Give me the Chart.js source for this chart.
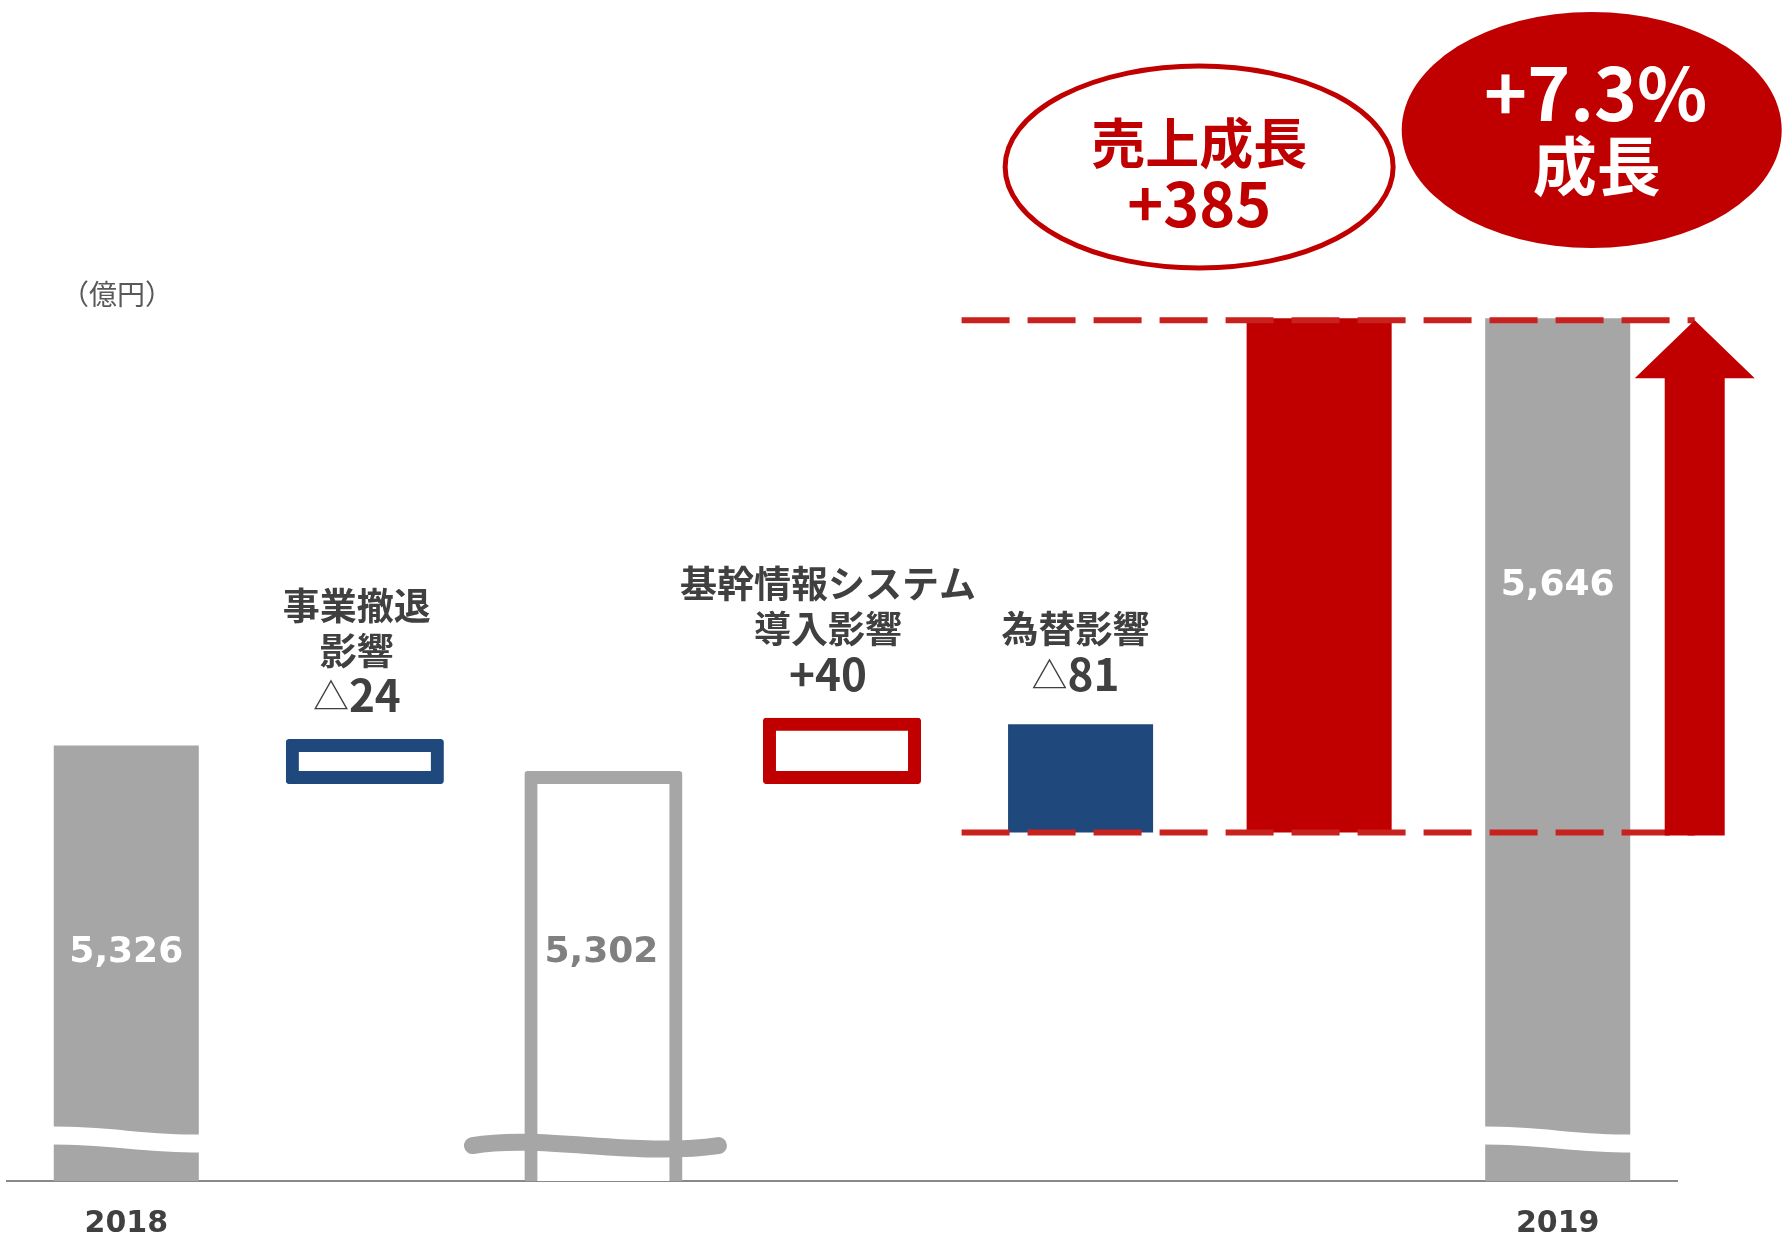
<!DOCTYPE html>
<html lang="ja">
<head>
<meta charset="utf-8">
<title>売上高 増減要因</title>
<script src="https://cdn.jsdelivr.net/npm/chart.js@4.4.1/dist/chart.umd.min.js"></script>
<style>
  html, body { margin: 0; padding: 0; background: #fff; }
  #wrap { width: 1782px; height: 1240px; }
</style>
</head>
<body>
<div id="wrap"><canvas id="bridge" width="1782" height="1240"></canvas></div>
<script>
const categories = ['2018', '事業撤退影響', '小計', '基幹情報システム導入影響', '為替影響', '売上成長', '2019'];
const tickLabels = ['2018', '', '', '', '', '', '2019'];
const stepTitles = [[], ['事業撤退', '影響'], [], ['基幹情報システム', '導入影響'], ['為替影響'], [], []];

const sales2018 = 5326;
const sales2019 = 5646;
const exitImpact = -24;
const systemImpact = 40;
const fxImpact = -81;
const growth = 385;

/* running totals of the bridge */
const subtotal = sales2018 + exitImpact;
const afterSystem = subtotal + systemImpact;
const afterFx = afterSystem + fxImpact;

const GRAY = '#A6A6A6', BLUE = '#1F497D', RED = '#C00000', TEXT = '#404040';
const JP = '"Noto Sans CJK JP", sans-serif';
const NUM = '"DejaVu Sans", sans-serif';
const breakAt = 5031;

function signed(v) {
    return v < 0 ? '△' + Math.abs(v) : '+' + v;
}

function fmt(v) {
    return v.toLocaleString('en-US');
}

/* find the bar drawn at a category */
function barAt(chart, index) {
    for (const meta of chart.getSortedVisibleDatasetMetas()) {
        const v = chart.data.datasets[meta.index].data[index];
        if (v !== null && v !== undefined) return meta.data[index];
    }
    return null;
}

function drawSigned(ctx, text, x, y, size, color) {
    // the triangle is set light and a bit smaller, the figures bold
    const neg = text.startsWith('△');
    const head = neg ? '△' : '';
    const tail = neg ? text.slice(1) : text;
    const headFont = `400 ${Math.round(size * 0.82)}px ${JP}`;
    ctx.font = headFont;
    const wh = head ? ctx.measureText(head).width : 0;
    ctx.font = `700 ${size}px ${JP}`;
    const wt = ctx.measureText(tail).width;
    let sx = x - (wh + wt) / 2;
    ctx.textAlign = 'left';
    ctx.fillStyle = color;
    if (head) {
        ctx.font = headFont;
        ctx.fillText(head, sx, y + 1);
        sx += wh;
    }
    ctx.font = `700 ${size}px ${JP}`;
    ctx.fillText(tail, sx, y);
}

const outlineBar = (data, color) => ({
    data,
    backgroundColor: '#FFFFFF',
    borderColor: color,
    borderWidth: 13,
    borderSkipped: false,
    borderRadius: 3,
    inflateAmount: 6.5,
    clip: { left: false, top: false, right: false, bottom: 0 }
});

const solidBar = (data, color) => ({
    data,
    backgroundColor: color,
    borderWidth: 0
});

/* DECORATION: axis breaks, guide lines, arrow, labels, callouts */
const bridgeDecor = {
    id: 'bridgeDecor',
    afterDatasetsDraw(chart) {
        const { ctx, scales: { y } } = chart;
        const yb = y.getPixelForValue(breakAt);
        ctx.save();

        [0, 6].forEach(i => {
            const bar = barAt(chart, i);
            const l = bar.x - bar.width / 2 - 1;
            const r = bar.x + bar.width / 2 + 1;
            ctx.beginPath();
            ctx.moveTo(l, yb - 4);
            ctx.bezierCurveTo(l + (r - l) * 0.4, yb - 4, l + (r - l) * 0.6, yb + 4, r, yb + 4);
            ctx.strokeStyle = '#FFFFFF';
            ctx.lineWidth = 18;
            ctx.lineCap = 'butt';
            ctx.stroke();
        });

        const sub = barAt(chart, 2);
        const x0 = sub.x - 131, x1 = sub.x + 115;
        ctx.beginPath();
        ctx.moveTo(x0, yb + 6);
        ctx.bezierCurveTo(x0 + 68, yb - 6, x0 + 162, yb + 18, x1, yb + 6);
        ctx.strokeStyle = GRAY;
        ctx.lineWidth = 17;
        ctx.lineCap = 'round';
        ctx.stroke();

        ctx.restore();
    },
    afterDraw(chart) {
        const { ctx, scales: { y } } = chart;
        const fxBar = barAt(chart, 4);
        const growthBar = barAt(chart, 5);
        const last = barAt(chart, 6);
        const yTop = y.getPixelForValue(sales2019);
        const yBot = y.getPixelForValue(afterFx);
        const ax = last.x + 137;

        ctx.save();

        // guide lines at the growth start and end
        ctx.setLineDash([48, 18]);
        ctx.strokeStyle = '#C9211E';
        ctx.lineWidth = 6;
        [yTop + 2, yBot].forEach(py => {
            ctx.beginPath();
            ctx.moveTo(fxBar.x - 119, py);
            ctx.lineTo(ax, py);
            ctx.stroke();
        });
        ctx.setLineDash([]);

        // growth arrow
        const head = 60;
        ctx.beginPath();
        ctx.moveTo(ax, yTop + 2);
        ctx.lineTo(ax + 60, yTop + head);
        ctx.lineTo(ax + 30, yTop + head);
        ctx.lineTo(ax + 30, yBot + 3);
        ctx.lineTo(ax - 30, yBot + 3);
        ctx.lineTo(ax - 30, yTop + head);
        ctx.lineTo(ax - 60, yTop + head);
        ctx.closePath();
        ctx.fillStyle = RED;
        ctx.fill();

        // totals inside the bars
        ctx.textAlign = 'center';
        ctx.textBaseline = 'middle';
        ctx.font = `700 36px ${NUM}`;
        ctx.fillStyle = '#FFFFFF';
        ctx.fillText(fmt(sales2018), barAt(chart, 0).x, y.getPixelForValue(5171));
        ctx.fillText(fmt(sales2019), last.x, y.getPixelForValue(5446));
        ctx.fillStyle = '#808080';
        ctx.fillText(fmt(subtotal), barAt(chart, 2).x - 2, y.getPixelForValue(5171));

        // step titles with their amounts
        const steps = { 1: exitImpact, 3: systemImpact, 4: fxImpact };
        const shift = { 1: -8, 3: -14, 4: -5 };
        Object.keys(steps).forEach(k => {
            const i = Number(k);
            const bar = barAt(chart, i);
            const top = Math.min(bar.y, bar.base);
            const cx = bar.x + shift[i];
            let ly = top - 50;
            drawSigned(ctx, signed(steps[i]), cx, ly, 44, TEXT);
            ctx.textAlign = 'center';
            ctx.font = `700 37px ${JP}`;
            ctx.fillStyle = TEXT;
            stepTitles[i].slice().reverse().forEach(line => {
                ly -= 45;
                ctx.fillText(line, cx, ly);
            });
        });

        // unit
        ctx.textAlign = 'left';
        ctx.font = `400 28px ${JP}`;
        ctx.fillStyle = '#595959';
        ctx.fillText('（億円）', 61, 294);

        // callout: sales growth amount
        const c1x = growthBar.x - 120, c1y = 167;
        ctx.beginPath();
        ctx.ellipse(c1x, c1y, 194, 101, 0, 0, Math.PI * 2);
        ctx.fillStyle = '#FFFFFF';
        ctx.fill();
        ctx.lineWidth = 5;
        ctx.strokeStyle = RED;
        ctx.stroke();
        ctx.textAlign = 'center';
        ctx.fillStyle = RED;
        ctx.font = `700 54px ${JP}`;
        ctx.fillText('売上成長', c1x, 143);
        ctx.font = `700 61px ${JP}`;
        ctx.fillText('+' + growth, c1x, 204);

        // callout: growth rate
        const rate = ((sales2019 - afterFx) / afterFx * 100).toFixed(1);
        const c2x = last.x + 34, c2y = 130;
        ctx.beginPath();
        ctx.ellipse(c2x, c2y, 190, 118, 0, 0, Math.PI * 2);
        ctx.fillStyle = RED;
        ctx.fill();
        ctx.fillStyle = '#FFFFFF';
        ctx.font = `700 73px ${JP}`;
        ctx.fillText('+' + rate + '%', c2x + 4, 93);
        ctx.font = `700 64px ${JP}`;
        ctx.fillText('成長', c2x + 5, 166);

        ctx.restore();
    }
};

const none = categories.map(() => null);
const at = (i, v) => none.map((n, j) => (j === i ? v : null));

new Chart(document.getElementById('bridge'), {
    type: 'bar',
    data: {
        labels: categories,
        datasets: [
            solidBar([sales2018, null, null, null, null, null, sales2019], GRAY),
            outlineBar(at(2, subtotal), GRAY),
            outlineBar(at(1, [subtotal, sales2018]), BLUE),
            outlineBar(at(3, [subtotal, afterSystem]), RED),
            solidBar(at(4, [afterFx, afterSystem]), BLUE),
            solidBar(at(5, [afterFx, afterFx + growth]), RED)
        ]
    },
    options: {
        responsive: false,
        devicePixelRatio: 1,
        animation: false,
        skipNull: true,
        barPercentage: 0.76,
        categoryPercentage: 0.8,
        layout: { padding: { left: 7, right: 105, top: 246, bottom: 0 } },
        plugins: {
            legend: { display: false },
            tooltip: { enabled: false }
        },
        scales: {
            x: {
                grid: { display: false, drawTicks: false },
                border: { display: true, color: '#898989', width: 2 },
                ticks: {
                    autoSkip: false,
                    maxRotation: 0,
                    padding: 25,
                    color: TEXT,
                    font: { family: NUM, size: 30, weight: 'bold' },
                    callback: (v, i) => tickLabels[i]
                },
                afterFit: scale => { scale.height = 59; }
            },
            y: {
                display: false,
                min: 5000,
                max: 5700
            }
        }
    },
    plugins: [bridgeDecor]
});
</script>
</body>
</html>
